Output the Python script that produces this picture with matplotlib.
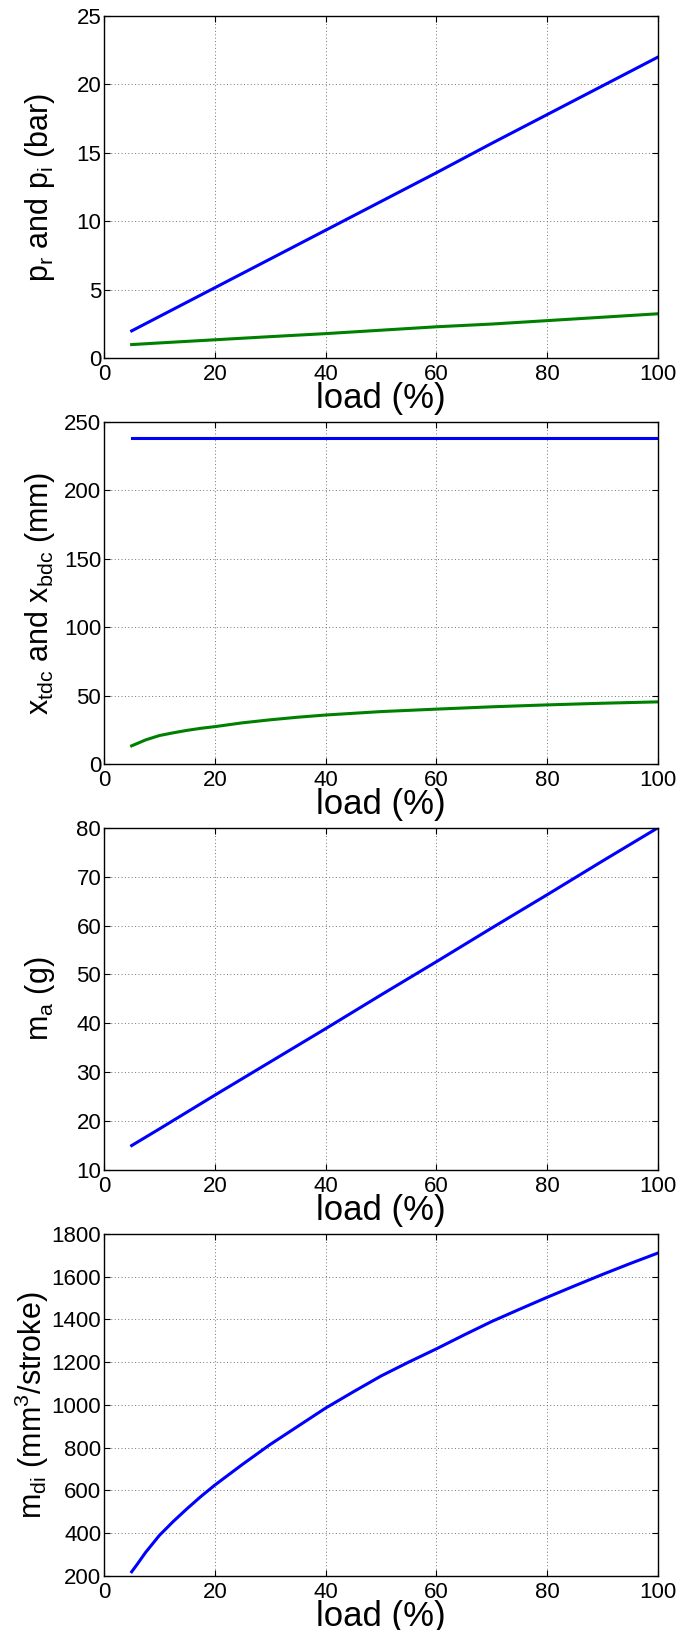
import matplotlib
matplotlib.use("Agg")
import matplotlib.pyplot as plt

plt.rcParams['font.family'] = ['Liberation Sans', 'DejaVu Sans']
plt.rcParams['mathtext.fontset'] = 'custom'
plt.rcParams['mathtext.rm'] = 'Liberation Sans'
plt.rcParams['mathtext.it'] = 'Liberation Sans'

# donnees
charge = [5, 10, 20, 30, 40, 50, 60, 70, 80, 90, 100]
p_r = [2.0, 3.05, 5.15, 7.25, 9.35, 11.45, 13.55, 15.7, 17.8, 19.9, 22.0]
p_i = [1.0, 1.12, 1.35, 1.58, 1.8, 2.05, 2.3, 2.5, 2.75, 3.0, 3.25]

charge_x = [5, 6, 7.5, 10, 12.5, 15, 17.5, 20, 25, 30, 35, 40, 50, 60, 70, 80, 90, 100]
x_bdc = [238.5] * len(charge_x)
x_tdc = [13.5, 15.2, 17.8, 21, 23, 24.8, 26.3, 27.5, 30.3, 32.5, 34.4, 36,
         38.5, 40.3, 42, 43.4, 44.6, 45.6]

m_a = [15, 18.4, 25.3, 32.1, 38.9, 45.8, 52.6, 59.5, 66.3, 73.2, 80]

charge_m = [5, 6, 7.5, 10, 12.5, 15, 17.5, 20, 25, 30, 35, 40, 45, 50, 55, 60,
            65, 70, 75, 80, 85, 90, 95, 100]
m_di = [220, 255, 310, 390, 455, 515, 572, 625, 722, 815, 900, 985, 1061, 1135,
        1200, 1262, 1327, 1390, 1447, 1503, 1557, 1610, 1661, 1710]

BLEU = (0, 0, 1)
VERT = (0, 0.5, 0)

fig = plt.figure(figsize=(6.84, 16.30), dpi=100)
left, width = 0.152, 0.810
bas = [0.7802, 0.5311, 0.2822, 0.0331]
haut = 0.2100


def prepare(ax, ylim, yticks, ylabel, xlab=-0.085):
    ax.set_xlim(0, 100)
    ax.set_ylim(*ylim)
    ax.set_xticks([0, 20, 40, 60, 80, 100])
    ax.set_yticks(yticks)
    ax.grid(True, linestyle=(0, (1, 2.5)), color='0.45', linewidth=0.7)
    ax.tick_params(direction='in', top=True, right=True, length=4,
                   width=0.8, labelsize=16, pad=2)
    ax.tick_params(axis='x', pad=4)
    for s in ax.spines.values():
        s.set_linewidth(1.0)
    ax.set_xlabel('load (%)', fontsize=25, labelpad=-2)
    ax.set_ylabel(ylabel, fontsize=22)
    ax.yaxis.set_label_coords(xlab, 0.5)


ax1 = fig.add_axes([left, bas[0], width, haut])
ax1.plot(charge, p_r, color=BLEU, lw=2.2)
ax1.plot(charge, p_i, color=VERT, lw=2.2)
prepare(ax1, (0, 25), range(0, 26, 5), r'$\mathregular{p_r}$ and $\mathregular{p_i}$ (bar)')

ax2 = fig.add_axes([left, bas[1], width, haut])
ax2.plot(charge_x, x_bdc, color=BLEU, lw=2.2)
ax2.plot(charge_x, x_tdc, color=VERT, lw=2.2)
prepare(ax2, (0, 250), range(0, 251, 50), r'$\mathregular{x_{tdc}}$ and $\mathregular{x_{bdc}}$ (mm)')

ax3 = fig.add_axes([left, bas[2], width, haut])
ax3.plot(charge, m_a, color=BLEU, lw=2.2)
prepare(ax3, (10, 80), range(10, 81, 10), r'$\mathregular{m_a}$ (g)')

ax4 = fig.add_axes([left, bas[3], width, haut])
ax4.plot(charge_m, m_di, color=BLEU, lw=2.2)
prepare(ax4, (200, 1800), range(200, 1801, 200),
        r'$\mathregular{m_{di}}$ (mm$\mathregular{^3}$/stroke)', xlab=-0.095)

fig.savefig('out.png', dpi=100)
